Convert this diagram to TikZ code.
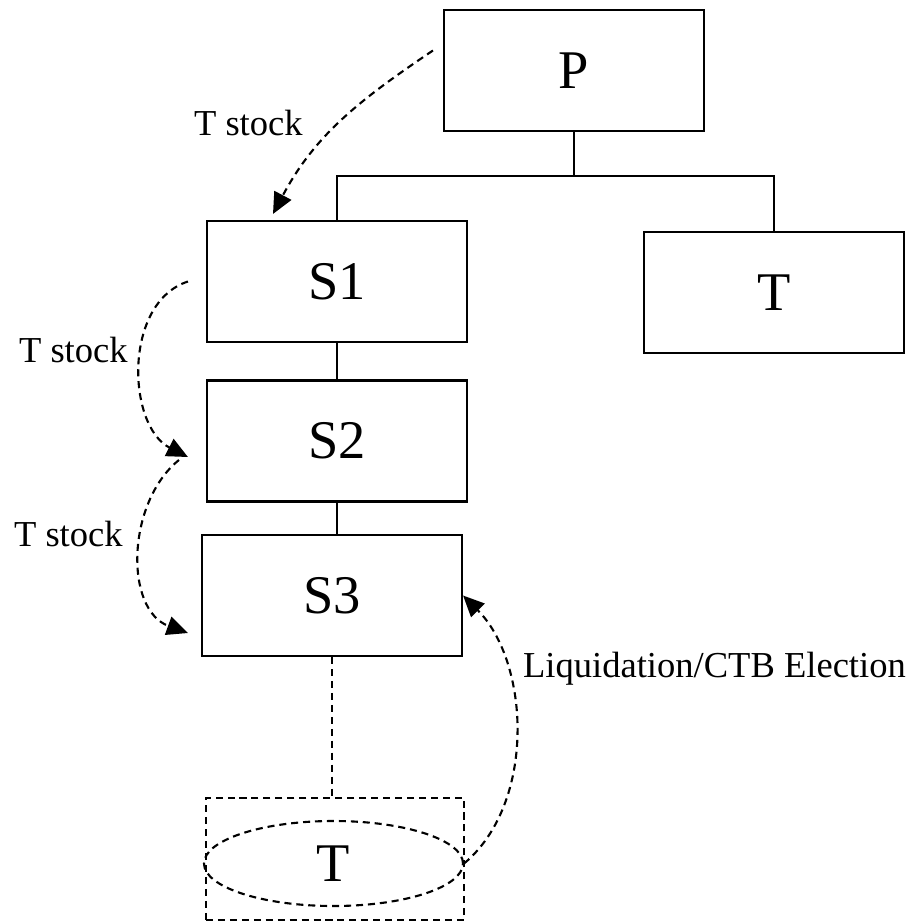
\documentclass[tikz,border=0pt]{standalone}
\usepackage{fontspec}
\setmainfont{Liberation Serif}
\usetikzlibrary{arrows.meta,shapes.geometric}

\begin{document}
\begin{tikzpicture}[>={Triangle[length=6pt,width=5.4pt]},line width=0.6pt,
  ent/.style={draw,minimum width=2.6cm,minimum height=1.21cm,inner sep=0pt,
    font=\fontsize{15.5}{18}\selectfont},
  lbl/.style={anchor=base west,inner sep=0pt,font=\fontsize{10.4}{12}\selectfont},
  dsh/.style={dash pattern=on 2pt off 1.4pt}]
\useasboundingbox (0,0) rectangle (9.13,-9.23);
% entities
\node[ent] (P) at (5.74,-0.705) {P};
\node[ent] (T) at (7.74,-2.925) {T};
\node[ent] (S1) at (3.37,-2.815) {S1};
\node[ent] (S2) at (3.37,-4.41) {S2};
\node[ent] (S3) at (3.32,-5.955) {S3};
\node[ent,dsh,minimum width=2.58cm,minimum height=1.22cm] (Tbox) at (3.35,-8.59) {};
\node[ellipse,draw,dsh,minimum width=2.59cm,minimum height=0.85cm,inner sep=0pt,
  font=\fontsize{15.5}{18}\selectfont] (Tdis) at (3.335,-8.635) {T};
% ownership
\coordinate (bus) at (5.74,-1.76);
\draw (P.south) -- (bus);
\draw (S1.north) |- (bus) -| (T.north);
\draw (S1) -- (S2);
\draw (S2.south) -- (S2.south |- S3.north);
\draw[dsh] (S3.south) -- (S3.south |- Tbox.north);
% transfers
\coordinate (from1) at ([xshift=-0.1cm,yshift=0.2cm]P.west);
\draw[dsh,->] (from1) to[out=-146,in=62] ([xshift=-0.64cm,yshift=0.06cm]S1.north);
\draw[dsh,->] ([xshift=-0.18cm]S1.west) to[out=198,in=153]
  ([xshift=-0.18cm,yshift=-0.16cm]S2.west);
\draw[dsh,->] ([xshift=-0.27cm,yshift=-0.19cm]S2.west) to[out=219,in=160]
  ([xshift=-0.13cm,yshift=-0.375cm]S3.west);
\draw[dsh,->] (Tdis.east) to[out=40,in=-45,looseness=0.9] (S3.east);
% labels
\node[lbl] (lab1) at (1.93,-1.35) {T stock};
\node[lbl] (lab2) at (0.18,-3.62) {T stock};
\node[lbl] (lab3) at (0.13,-5.46) {T stock};
\node[lbl] (lab4) at (5.22,-6.77) {Liquidation/CTB Election};
\end{tikzpicture}
\end{document}
